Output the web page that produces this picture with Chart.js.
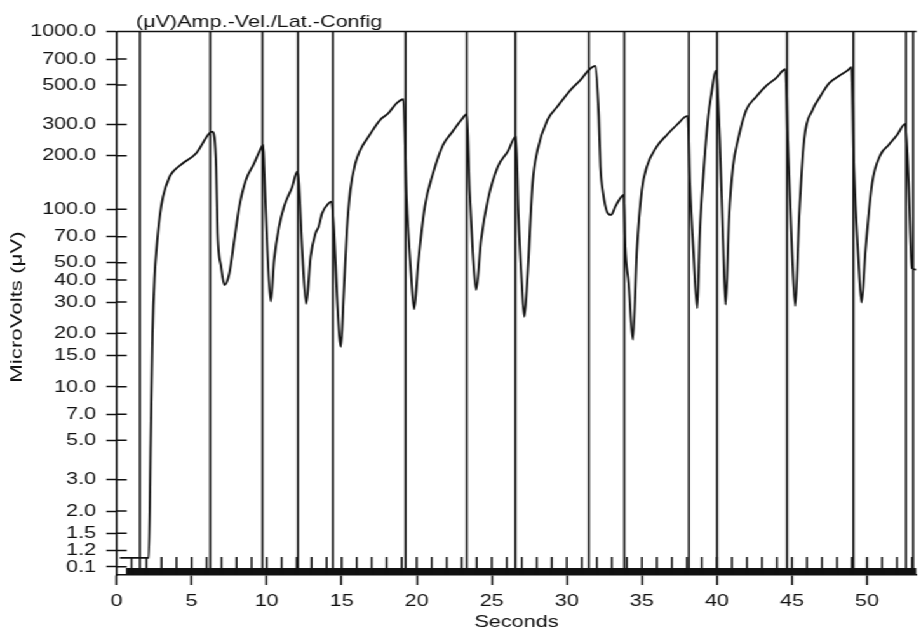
<!DOCTYPE html>
<html><head><meta charset="utf-8">
<script src="https://cdn.jsdelivr.net/npm/chart.js@4.4.1/dist/chart.umd.min.js"></script>
<style>
html,body{margin:0;padding:0;background:#fff;overflow:hidden;}
#wrap{position:absolute;left:0;top:0;width:725px;height:633px;transform:scaleX(1.27034);transform-origin:0 0;background:#fff;}
</style></head><body>
<div id="wrap"><canvas id="c"></canvas></div>
<script>
const chartTitle = '(μV)Amp.-Vel./Lat.-Config';
const xTitle = 'Seconds';
const yTitle = 'MicroVolts (μV)';

const curveSeconds = [0.23,2.15,2.28,2.40,2.55,2.66,2.88,3.10,3.54,3.87,4.42,5.31,6.19,6.41,
 6.64,6.74,6.97,7.19,7.52,7.85,8.18,8.62,9.17,9.62,9.77,
 9.83,10.05,10.28,10.50,10.83,11.16,11.71,12.04,
 12.15,12.37,12.64,12.93,13.26,13.47,13.70,14.14,14.32,
 14.49,14.69,14.85,14.95,15.13,15.35,15.58,15.91,16.24,16.79,17.56,18.11,18.66,19.11,
 19.32,19.62,19.83,20.10,20.54,21.09,21.75,22.30,22.97,23.34,
 23.52,23.74,23.96,24.29,24.74,25.40,26.06,26.61,
 26.77,26.99,27.17,27.38,27.72,28.05,28.71,29.37,30.25,30.91,31.47,31.91,
 32.13,32.24,32.42,32.68,32.95,33.23,33.56,33.79,
 33.89,34.12,34.40,34.67,35.00,35.33,35.99,36.66,37.32,38.05,
 38.20,38.43,38.69,38.86,39.09,39.42,39.64,39.92,
 40.19,40.41,40.58,40.81,41.07,41.40,41.95,42.62,43.28,43.94,44.56,
 44.72,45.00,45.22,45.48,45.81,46.37,46.81,47.47,48.13,48.69,48.97,
 49.13,49.42,49.64,49.90,50.34,50.89,51.44,52.00,52.55,
 52.77,52.99,53.28];
const curveMicroVolts = [1.09,1.09,5.0,20.1,43.7,58.9,90.7,117.6,152.4,166.2,181.3,206.5,267.4,273,
 173.5,73.2,47.5,37.4,43.6,67.1,103.3,146,181,220,229.8,
 173.5,58.9,30.2,51.8,79.7,103.3,133.9,162.6,
 139.9,58.9,29.3,54,73.2,79.7,94.8,108,110.2,
 76.3,32.2,19.2,16.8,32.2,76.3,128.3,181,215.4,255.9,318,346.7,394.5,415.6,
 117.6,43.6,27.3,49.6,103.3,159.3,229.8,267.4,318,342.2,
 128.3,56.5,35.1,67.1,112.7,173.5,210.7,255.9,
 94.8,40,24.8,41.5,139.9,215.4,318,377.6,469,533.6,607.8,640,
 331.7,173.5,122.9,96.8,92.8,103.3,115.2,120.2,
 61.5,38.3,18.4,58.9,128.3,173.5,224.8,261.7,297.8,334.7,
 139.9,58.9,27.7,73.2,152.4,331.7,449,602,
 245,67.1,29,90.7,173.5,245,361.7,429.7,494,545.8,613,
 245,58.9,28.5,90.7,245,361.7,421,511,562,602,629,
 173.5,54,29.8,58.9,139.9,201.9,229.8,261.7,301.8,
 139.9,46.5,45.7];

const markerSeconds = [1.56,6.24,9.72,12.09,14.42,19.26,23.34,26.57,31.47,33.83,38.13,40.01,44.67,49.09,52.6,53.07];

const yTickValues = [1000,700,500,300,200,100,70,50,40,30,20,15,10,7,5,3,2,1.5,1.2,0.97];
const yTickLabels = ['1000.0','700.0','500.0','300.0','200.0','100.0','70.0','50.0','40.0','30.0','20.0','15.0','10.0','7.0','5.0','3.0','2.0','1.5','1.2','0.1'];
const xLabelSeconds = [0,5,10,15,20,25,30,35,40,45,50];
const xTickSeconds = [0,1,2,3,4,5,6,7,8,9,10,11,12,13,14,15,16,17,18,19,20,21,22,23,24,25,26,27,28,29,30,31,32,33,34,35,36,37,38,39,40,41,42,43,44,45,46,47,48,49,50,51,52,53];
const baselineBandSeconds = [0.63, 53.3];
const baselineBandLevel = 0.913;

const INK = '#111';
const FONT = '"Liberation Sans", Arial, sans-serif';
const Y_MIN = 0.873, Y_MAX = 1000, X_MIN = 0, X_MAX = 53.3;

const curveData = curveSeconds.map((s, i) => ({x: s, y: curveMicroVolts[i]}));
const markerData = markerSeconds.flatMap(s => [{x: s, y: 0.95}, {x: s, y: Y_MAX}, {x: s, y: null}]);
const bandData = baselineBandSeconds.map(s => ({x: s, y: baselineBandLevel}));

const decor = {
  id: 'decor',
  afterDraw(chart) {
    const {ctx, chartArea: a, scales: {x, y}} = chart;
    ctx.save();
    ctx.strokeStyle = INK;
    ctx.lineWidth = 1.5;
    ctx.beginPath();
    ctx.moveTo(a.left, a.top); ctx.lineTo(a.right, a.top);
    yTickValues.forEach(v => { const py = y.getPixelForValue(v); ctx.moveTo(a.left, py); ctx.lineTo(a.left + 8, py); });
    xTickSeconds.slice(1).forEach(s => { const px = x.getPixelForValue(s); ctx.moveTo(px, a.bottom - 18); ctx.lineTo(px, a.bottom); });
    ctx.stroke();
    ctx.fillStyle = INK;
    ctx.font = '17px ' + FONT;
    ctx.textAlign = 'left';
    ctx.textBaseline = 'alphabetic';
    ctx.fillText(chartTitle, 107, 27);
    ctx.translate(13.2, 307);
    ctx.rotate(-Math.PI / 2);
    ctx.scale(1.31, 0.8);
    ctx.textAlign = 'center';
    ctx.textBaseline = 'middle';
    ctx.fillText(yTitle, 0, 0);
    ctx.restore();
  }
};

new Chart(document.getElementById('c'), {
  type: 'line',
  data: {
    datasets: [
      {data: bandData, borderColor: INK, borderWidth: 7, pointRadius: 0, tension: 0},
      {data: markerData, borderColor: INK, borderWidth: 1.6, pointRadius: 0, tension: 0, spanGaps: false},
      {data: curveData, borderColor: INK, borderWidth: 1.8, pointRadius: 0, cubicInterpolationMode: 'monotone'}
    ]
  },
  options: {
    responsive: true,
    maintainAspectRatio: false,
    animation: false,
    events: [],
    layout: {padding: {top: 31.5, left: 0, right: 0, bottom: 0}},
    plugins: {legend: {display: false}, tooltip: {enabled: false}, title: {display: false}},
    scales: {
      x: {
        type: 'linear', min: X_MIN, max: X_MAX,
        afterBuildTicks: s => { s.ticks = xTickSeconds.map(v => ({value: v})); },
        afterFit: s => { s.height = 58; },
        ticks: {
          autoSkip: false, maxRotation: 0, padding: 6, color: INK,
          font: {family: FONT, size: 17},
          callback: v => xLabelSeconds.includes(v) ? String(v) : ''
        },
        grid: {
          drawOnChartArea: false, drawTicks: true, tickLength: 10, tickWidth: 1.5,
          tickColor: c => (c.tick && xLabelSeconds.includes(c.tick.value)) ? INK : 'rgba(0,0,0,0)'
        },
        border: {display: true, color: INK, width: 1.5},
        title: {display: true, text: xTitle, color: INK, font: {family: FONT, size: 17}, padding: {top: 0, bottom: 0}}
      },
      y: {
        type: 'logarithmic', min: Y_MIN, max: Y_MAX,
        afterBuildTicks: s => { s.ticks = yTickValues.map(v => ({value: v})); },
        afterFit: s => { s.width = 91.7; },
        ticks: {
          autoSkip: false, padding: 8, color: INK,
          font: {family: FONT, size: 17},
          callback: (v, i) => yTickLabels[i]
        },
        grid: {drawOnChartArea: false, drawTicks: true, tickLength: 8, tickWidth: 1.5, tickColor: INK},
        border: {display: true, color: INK, width: 1.5},
        title: {display: false}
      }
    }
  },
  plugins: [decor]
});
</script>
</body></html>
